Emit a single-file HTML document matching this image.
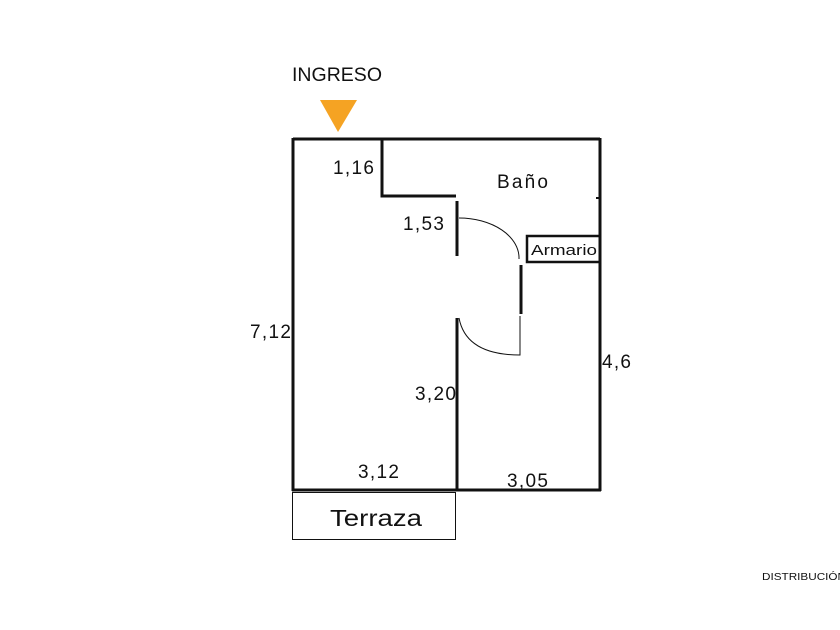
<!DOCTYPE html>
<html><head><meta charset="utf-8"><style>html,body{margin:0;padding:0;background:#fff}svg{display:block}</style></head>
<body>
<svg width="840" height="630" viewBox="0 0 840 630" xmlns="http://www.w3.org/2000/svg" font-family="Liberation Sans, DejaVu Sans, sans-serif" fill="#111">
<text x="292" y="81" font-size="19" textLength="90" lengthAdjust="spacingAndGlyphs">INGRESO</text>
<polygon points="320,100 357,100 338,132" fill="#F5A323"/>
<g stroke="#111" stroke-width="3" fill="none">
<polyline points="293,139 600,139"/>
<line x1="293" y1="138" x2="293" y2="491"/>
<line x1="600" y1="138" x2="600" y2="491"/>
<line x1="292" y1="490" x2="601" y2="490"/>
<polyline points="382,139 382,196 456,196"/>
<line x1="457" y1="201" x2="457" y2="256"/>
<line x1="457" y1="318" x2="457" y2="490"/>
<line x1="521" y1="265" x2="521" y2="314"/>
<rect x="527" y="236" width="73" height="26" stroke-width="2.5"/>
<line x1="596" y1="198" x2="600" y2="198" stroke-width="2"/>
</g>
<g stroke="#111" stroke-width="1" fill="none">
<path d="M459,218 A60,40 0 0 1 519,259"/>
<path d="M459,318 Q466,355 520,355 L520,316"/>
<rect x="292.5" y="492.5" width="163" height="47"/>
</g>
<g font-size="19" lengthAdjust="spacingAndGlyphs">
<text x="333" y="174" textLength="41">1,16</text>
<text x="497" y="188" textLength="51">Baño</text>
<text x="403" y="230" textLength="41">1,53</text>
<text x="250" y="338" textLength="41">7,12</text>
<text x="602" y="368" textLength="29">4,6</text>
<text x="415" y="400" textLength="41">3,20</text>
<text x="358" y="478" textLength="41">3,12</text>
<text x="507" y="487" textLength="41">3,05</text>
</g>
<text x="531" y="255" font-size="15" textLength="66" lengthAdjust="spacingAndGlyphs">Armario</text>
<text x="330" y="526" font-size="23" textLength="92" lengthAdjust="spacingAndGlyphs">Terraza</text>
<text x="762" y="580" font-size="10" textLength="84" lengthAdjust="spacingAndGlyphs">DISTRIBUCIÓN</text>
</svg>
</body></html>
